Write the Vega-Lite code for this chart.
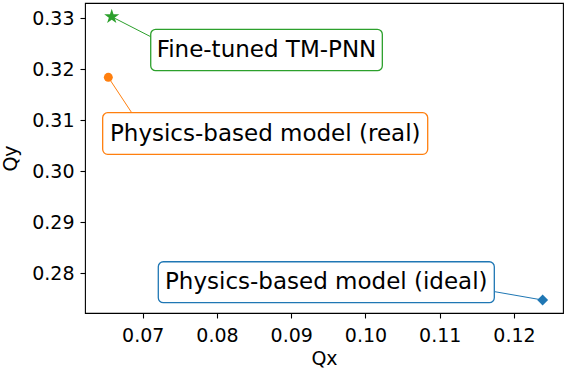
{
  "$schema": "https://vega.github.io/schema/vega-lite/v6.json",
  "width": 478,
  "height": 310,
  "autosize": "none",
  "padding": {"left": 85, "top": 3, "right": 2, "bottom": 55},
  "background": "white",
  "config": {
    "font": "DejaVu Sans",
    "view": {"stroke": "black", "strokeWidth": 1.1},
    "axis": {
      "labelFont": "DejaVu Sans",
      "labelFontSize": 19,
      "labelColor": "black",
      "titleFont": "DejaVu Sans",
      "titleFontSize": 19,
      "titleFontWeight": "normal",
      "titleColor": "black",
      "tickColor": "black",
      "tickSize": 5,
      "tickWidth": 1.1,
      "domain": false,
      "grid": false
    }
  },
  "data": {
    "values": [
      {"model": "Fine-tuned TM-PNN", "qx": 0.06583, "qy": 0.33031, "lx": 0.08667, "ly": 0.32378, "bx1": 0.07108, "bx2": 0.10227, "by1": 0.32784, "by2": 0.31973, "cx": 0.07108, "cy": 0.32639},
      {"model": "Physics-based model (real)", "qx": 0.06537, "qy": 0.31843, "lx": 0.0865, "ly": 0.30741, "bx1": 0.06461, "bx2": 0.10838, "by1": 0.31149, "by2": 0.30333, "cx": 0.06852, "cy": 0.31149},
      {"model": "Physics-based model (ideal)", "qx": 0.12386, "qy": 0.27476, "lx": 0.09472, "ly": 0.27826, "bx1": 0.0721, "bx2": 0.11735, "by1": 0.28227, "by2": 0.27424, "cx": 0.11744, "cy": 0.27639}
    ]
  },
  "layer": [
    {
      "mark": {"type": "rule", "strokeWidth": 1},
      "encoding": {
        "x": {"field": "cx", "type": "quantitative", "scale": {"domain": [0.06223, 0.1266], "nice": false, "zero": false},
              "axis": {"title": "Qx", "values": [0.07, 0.08, 0.09, 0.1, 0.11, 0.12], "format": ".2f", "labelPadding": 8, "titlePadding": 4}},
        "y": {"field": "cy", "type": "quantitative", "scale": {"domain": [0.27222, 0.333], "nice": false, "zero": false},
              "axis": {"title": "Qy", "values": [0.28, 0.29, 0.3, 0.31, 0.32, 0.33], "format": ".2f", "labelPadding": 6, "titlePadding": 11}},
        "x2": {"field": "qx"},
        "y2": {"field": "qy"},
        "color": {"field": "model", "type": "nominal", "legend": null,
                  "scale": {"domain": ["Physics-based model (ideal)", "Physics-based model (real)", "Fine-tuned TM-PNN"], "range": ["#1f77b4", "#ff7f0e", "#2ca02c"]}}
      }
    },
    {
      "mark": {"type": "rect", "fill": "white", "strokeWidth": 1.3, "cornerRadius": 5},
      "encoding": {
        "x": {"field": "bx1", "type": "quantitative", "scale": {"domain": [0.06223, 0.1266], "nice": false, "zero": false}},
        "x2": {"field": "bx2"},
        "y": {"field": "by1", "type": "quantitative", "scale": {"domain": [0.27222, 0.333], "nice": false, "zero": false}},
        "y2": {"field": "by2"},
        "stroke": {"field": "model", "type": "nominal", "legend": null,
                   "scale": {"domain": ["Physics-based model (ideal)", "Physics-based model (real)", "Fine-tuned TM-PNN"], "range": ["#1f77b4", "#ff7f0e", "#2ca02c"]}}
      }
    },
    {
      "mark": {"type": "text", "font": "DejaVu Sans", "fontSize": 23, "color": "black", "align": "center", "baseline": "middle"},
      "encoding": {
        "x": {"field": "lx", "type": "quantitative", "scale": {"domain": [0.06223, 0.1266], "nice": false, "zero": false}},
        "y": {"field": "ly", "type": "quantitative", "scale": {"domain": [0.27222, 0.333], "nice": false, "zero": false}},
        "text": {"field": "model", "type": "nominal"}
      }
    },
    {
      "transform": [{"filter": "datum.model === 'Physics-based model (ideal)'"}],
      "mark": {"type": "point", "filled": true, "opacity": 1, "shape": "diamond", "size": 120},
      "encoding": {
        "x": {"field": "qx", "type": "quantitative", "scale": {"domain": [0.06223, 0.1266], "nice": false, "zero": false}},
        "y": {"field": "qy", "type": "quantitative", "scale": {"domain": [0.27222, 0.333], "nice": false, "zero": false}},
        "color": {"field": "model", "type": "nominal", "legend": null,
                  "scale": {"domain": ["Physics-based model (ideal)", "Physics-based model (real)", "Fine-tuned TM-PNN"], "range": ["#1f77b4", "#ff7f0e", "#2ca02c"]}}
      }
    },
    {
      "transform": [{"filter": "datum.model === 'Physics-based model (real)'"}],
      "mark": {"type": "point", "filled": true, "opacity": 1, "shape": "circle", "size": 80},
      "encoding": {
        "x": {"field": "qx", "type": "quantitative", "scale": {"domain": [0.06223, 0.1266], "nice": false, "zero": false}},
        "y": {"field": "qy", "type": "quantitative", "scale": {"domain": [0.27222, 0.333], "nice": false, "zero": false}},
        "color": {"field": "model", "type": "nominal", "legend": null,
                  "scale": {"domain": ["Physics-based model (ideal)", "Physics-based model (real)", "Fine-tuned TM-PNN"], "range": ["#1f77b4", "#ff7f0e", "#2ca02c"]}}
      }
    },
    {
      "transform": [{"filter": "datum.model === 'Fine-tuned TM-PNN'"}],
      "mark": {"type": "point", "filled": true, "opacity": 1, "size": 250,
               "shape": "M0,-1L0.2245,-0.309L0.951,-0.309L0.363,0.118L0.588,0.809L0,0.382L-0.588,0.809L-0.363,0.118L-0.951,-0.309L-0.2245,-0.309Z"},
      "encoding": {
        "x": {"field": "qx", "type": "quantitative", "scale": {"domain": [0.06223, 0.1266], "nice": false, "zero": false}},
        "y": {"field": "qy", "type": "quantitative", "scale": {"domain": [0.27222, 0.333], "nice": false, "zero": false}},
        "color": {"field": "model", "type": "nominal", "legend": null,
                  "scale": {"domain": ["Physics-based model (ideal)", "Physics-based model (real)", "Fine-tuned TM-PNN"], "range": ["#1f77b4", "#ff7f0e", "#2ca02c"]}}
      }
    }
  ]
}
